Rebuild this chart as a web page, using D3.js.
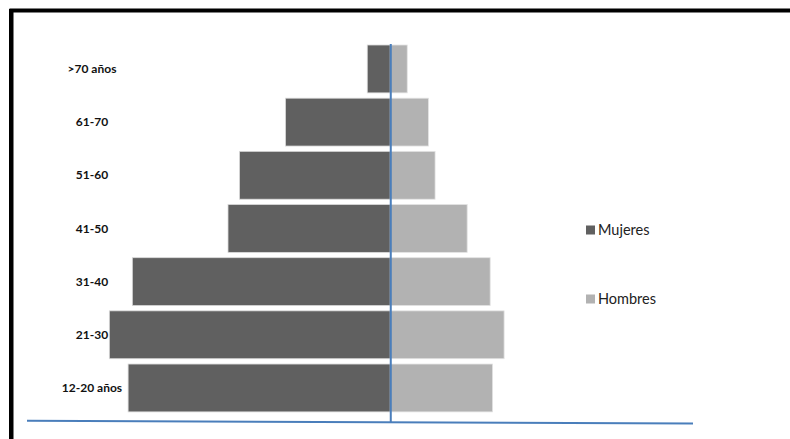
<!DOCTYPE html>
<html>
<head>
<meta charset="utf-8">
<script src="https://cdn.jsdelivr.net/npm/d3@7"></script>
<style>
  html, body { margin: 0; padding: 0; background: #fff; }
  svg { display: block; }
</style>
</head>
<body>
<svg id="pyramid"></svg>
<script>
// grupos de edad (de arriba hacia abajo)
const ageGroups = [">70 años", "61-70", "51-60", "41-50", "31-40", "21-30", "12-20 años"];
const mujeres = [3.8, 17.3, 24.9, 26.8, 42.6, 46.4, 43.3];
const hombres = [2.8, 6.3, 7.4, 12.7, 16.5, 18.8, 16.9];
const seriesNames = ["Mujeres", "Hombres"];
const xDomain = [-60, 50];

function drawPyramid() {
    const width = 790;
    const height = 439;

    const svg = d3.select("#pyramid")
        .attr("width", width)
        .attr("height", height);

    const colors = { Mujeres: "#606060", Hombres: "#b2b2b2" };

    const x = d3.scaleLinear()
        .domain(xDomain)
        .range([27, 693]);

    const y = d3.scaleBand()
        .domain(ageGroups)
        .range([39.7, 417.2])
        .paddingInner(0.1)
        .paddingOuter(0.1);

    // marco negro
    svg.append("rect")
        .attr("x", 11.5).attr("y", 10.5)
        .attr("width", 820).attr("height", 460)
        .attr("fill", "none")
        .attr("stroke", "#000")
        .attr("stroke-width", 4);
    svg.append("line")
        .attr("x1", 10).attr("x2", 10)
        .attr("y1", 9).attr("y2", height)
        .attr("stroke", "#000").attr("stroke-width", 2);

    const rows = ageGroups.map((g, i) => ({ group: g, m: mujeres[i], h: hombres[i] }));

    // barras mujeres (lado izquierdo)
    svg.selectAll(".bar-m")
        .data(rows).enter().append("rect").attr("class", "bar-m")
        .attr("x", d => x(-d.m))
        .attr("y", d => y(d.group))
        .attr("width", d => x(0) - x(-d.m))
        .attr("height", y.bandwidth())
        .attr("fill", colors.Mujeres)
        .attr("stroke", "#d9d9d9").attr("stroke-width", 0.8);

    // barras hombres (lado derecho)
    svg.selectAll(".bar-h")
        .data(rows).enter().append("rect").attr("class", "bar-h")
        .attr("x", x(0))
        .attr("y", d => y(d.group))
        .attr("width", d => x(d.h) - x(0))
        .attr("height", y.bandwidth())
        .attr("fill", colors.Hombres)
        .attr("stroke", "#e3e3e3").attr("stroke-width", 0.8);

    // etiquetas de edad
    svg.selectAll(".age-label")
        .data(rows).enter().append("text").attr("class", "age-label")
        .attr("x", 92)
        .attr("y", d => y(d.group) + y.bandwidth() / 2)
        .attr("dy", "0.35em")
        .attr("text-anchor", "middle")
        .attr("font-family", "Lato, 'Open Sans', sans-serif")
        .attr("font-weight", "bold")
        .attr("font-size", "12px")
        .attr("fill", "#111")
        .text(d => d.group);

    // eje vertical central
    svg.append("line")
        .attr("x1", x(0) + 0.5).attr("x2", x(0) + 0.5)
        .attr("y1", 44).attr("y2", 422)
        .attr("stroke", "#4a7ebb").attr("stroke-width", 2);

    // línea base
    svg.append("line")
        .attr("x1", x(xDomain[0])).attr("y1", 420.8)
        .attr("x2", x(xDomain[1])).attr("y2", 423.5)
        .attr("stroke", "#4a7ebb").attr("stroke-width", 2);

    // leyenda
    const legend = svg.selectAll(".legend")
        .data(seriesNames).enter().append("g").attr("class", "legend")
        .attr("transform", (d, i) => `translate(586,${230 + i * 69})`);

    legend.append("rect")
        .attr("x", 0).attr("y", -4.5)
        .attr("width", 9).attr("height", 9)
        .attr("fill", d => colors[d]);

    legend.append("text")
        .attr("x", 12).attr("y", 0)
        .attr("dy", "0.36em")
        .attr("font-family", "Lato, 'Open Sans', sans-serif")
        .attr("font-size", "14.5px")
        .attr("fill", "#222")
        .text(d => d);
}

drawPyramid();
</script>
</body>
</html>
